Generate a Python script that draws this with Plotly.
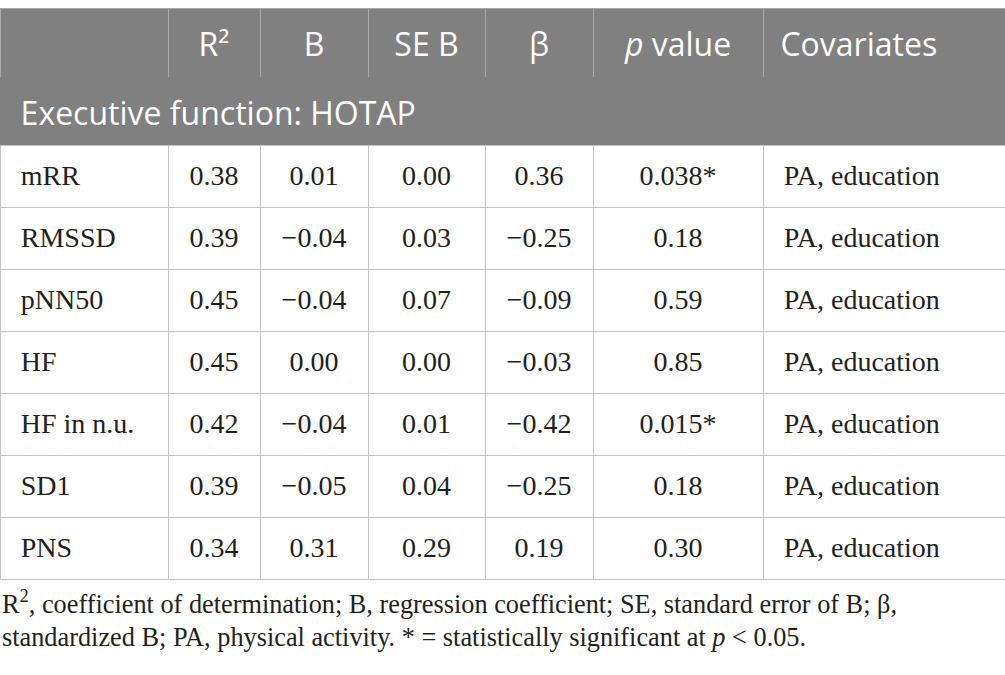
"""
Regression table: HRV parameters vs. executive function (HOTAP).
"""

import plotly.graph_objects as go

header_labels = ['', 'R²', 'B', 'SE B', 'β', '<i>p</i> value', 'Covariates']
group_label = 'Executive function: HOTAP'

parameters = ['mRR', 'RMSSD', 'pNN50', 'HF', 'HF in n.u.', 'SD1', 'PNS']
r_squared = ['0.38', '0.39', '0.45', '0.45', '0.42', '0.39', '0.34']
b_coef = ['0.01', '−0.04', '−0.04', '0.00', '−0.04', '−0.05', '0.31']
se_b = ['0.00', '0.03', '0.07', '0.00', '0.01', '0.04', '0.29']
beta = ['0.36', '−0.25', '−0.09', '−0.03', '−0.42', '−0.25', '0.19']
p_values = ['0.038*', '0.18', '0.59', '0.85', '0.015*', '0.18', '0.30']
covariates = ['PA, education'] * 7

footnote = [
    'R<sup>2</sup>, coefficient of determination; B, regression coefficient; '
    'SE, standard error of B; β,',
    'standardized B; PA, physical activity. * = statistically significant '
    'at <i>p</i> &lt; 0.05.',
]

W, H = 1005, 675
col_widths = [168, 92, 108, 117, 108, 170, 242]
aligns = ['left', 'center', 'center', 'center', 'center', 'center', 'left']
head_grey = '#808080'
grid_grey = '#c4c4c4'
ink = '#231F20'
sans = 'Open Sans'
serif = 'Liberation Serif'

# plotly tables top-align their text; a raised blank glyph makes the text
# box taller so the words sit lower, near the middle of the row
SPACER = '<sup><sup>\u00a0</sup></sup>'


def py(px_from_top):
    """Pixel row (from the top) to paper fraction."""
    return 1 - px_from_top / H


def lift(text, align='center', extra=''):
    if not text:
        return text
    if align == 'left':
        return SPACER + extra + text
    return SPACER + text + SPACER


columns = [parameters, r_squared, b_coef, se_b, beta, p_values, covariates]
columns = [[lift(v, al, '\u00a0\u200a') for v in col]
           for col, al in zip(columns, aligns)]

fig = go.Figure()

# column labels
fig.add_trace(go.Table(
    domain={'x': [0, 1], 'y': [py(80), py(8)]},
    columnwidth=col_widths,
    header={'values': [lift(h, al, '\u2009')
                       for h, al in zip(header_labels, aligns)],
            'align': aligns,
            'height': 69,
            'fill': {'color': head_grey},
            'line': {'color': '#a9a9a9', 'width': 1},
            'font': {'family': sans, 'size': 32, 'color': '#FFFFFF'}},
    cells={'values': [[] for _ in header_labels]},
))

# group row spanning the full width
fig.add_trace(go.Table(
    domain={'x': [0, 1], 'y': [py(148), py(77)]},
    header={'values': [lift(group_label, 'left', '\u2009\u200a')],
            'align': 'left',
            'height': 68,
            'fill': {'color': head_grey},
            'line': {'color': head_grey, 'width': 1},
            'font': {'family': sans, 'size': 32, 'color': '#FFFFFF'}},
    cells={'values': [[]]},
))

# data rows (first row carried in the header slot so no blank header shows)
fig.add_trace(go.Table(
    domain={'x': [0, 1], 'y': [py(600), py(145)]},
    columnwidth=col_widths,
    header={'values': [col[0] for col in columns],
            'align': aligns,
            'height': 62,
            'fill': {'color': '#FFFFFF'},
            'line': {'color': grid_grey, 'width': 1},
            'font': {'family': serif, 'size': 28, 'color': ink}},
    cells={'values': [col[1:] for col in columns],
           'align': aligns,
           'height': 62,
           'fill': {'color': '#FFFFFF'},
           'line': {'color': grid_grey, 'width': 1},
           'font': {'family': serif, 'size': 28, 'color': ink}},
))

for i, line in enumerate(footnote):
    fig.add_annotation(
        text=line, xref='paper', yref='paper', x=0, y=py(602 + 35 * i),
        xanchor='left', yanchor='middle', showarrow=False,
        font={'family': serif, 'size': 26.3, 'color': ink}
    )

fig.update_layout(
    width=W, height=H,
    margin={'l': 0, 'r': 0, 't': 0, 'b': 0},
    paper_bgcolor='#FFFFFF',
    plot_bgcolor='#FFFFFF',
)

fig.write_html('out.html', config={'displayModeBar': False},
               post_script="document.body.style.margin = '0';")
